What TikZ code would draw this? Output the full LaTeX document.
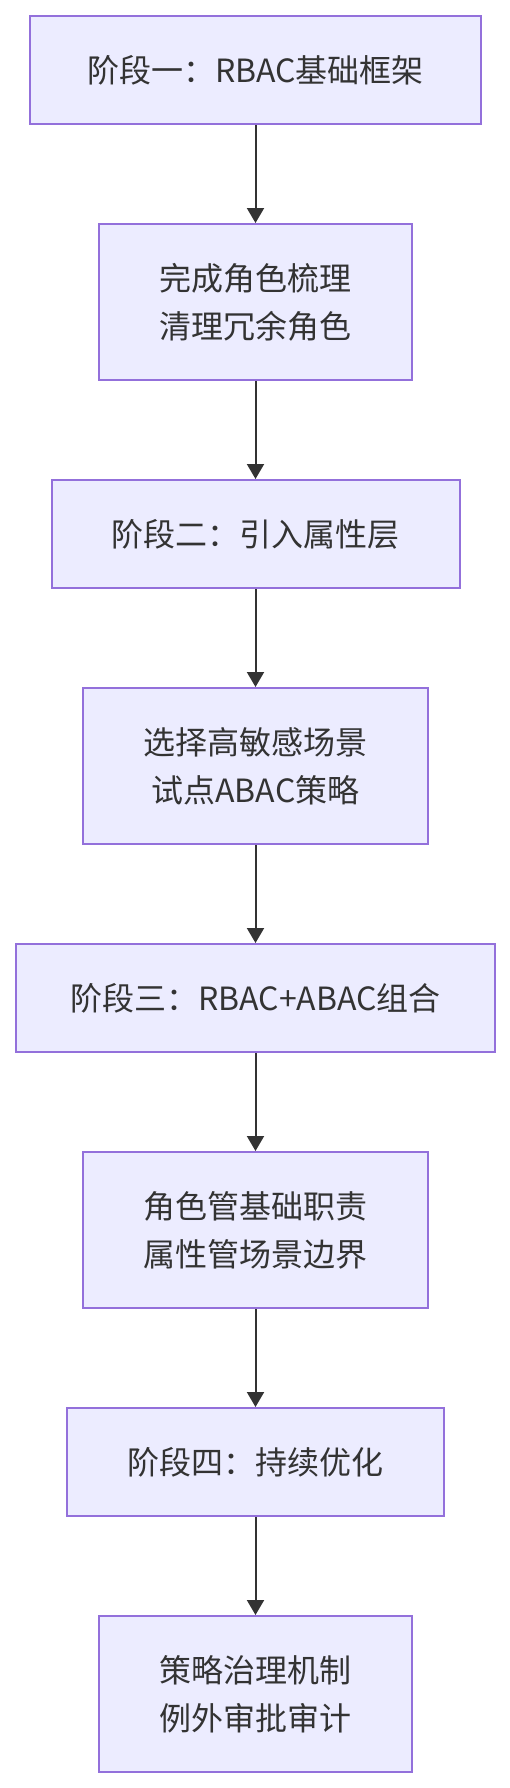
\documentclass[tikz,border=0pt]{standalone}
\usepackage{fontspec}
\setmainfont{Noto Sans CJK SC}
\usetikzlibrary{arrows.meta}
\definecolor{boxfill}{HTML}{ECECFF}
\definecolor{boxline}{HTML}{9370DB}
\definecolor{ink}{HTML}{333333}
\begin{document}
\begin{tikzpicture}[x=1pt,y=-1pt,
  stagebox/.style={draw=boxline,fill=boxfill,line width=2pt,inner sep=0pt,
    align=center,text=ink,font=\fontsize{32}{48}\selectfont},
  flow/.style={draw=ink,line width=2pt,-{Triangle[width=17pt,length=15pt]}}]
\useasboundingbox (0,0) rectangle (510,1788);
\node[stagebox,minimum width=451,minimum height=108] (s1) at (255.5,70) {阶段一：RBAC基础框架};
\node[stagebox,minimum width=313,minimum height=156] (s2) at (255.5,302) {完成角色梳理\\清理冗余角色};
\node[stagebox,minimum width=408,minimum height=108] (s3) at (255.5,534) {阶段二：引入属性层};
\node[stagebox,minimum width=345,minimum height=156] (s4) at (255.5,766) {选择高敏感场景\\试点ABAC策略};
\node[stagebox,minimum width=479,minimum height=108] (s5) at (255.5,998) {阶段三：RBAC+ABAC组合};
\node[stagebox,minimum width=345,minimum height=156] (s6) at (255.5,1230) {角色管基础职责\\属性管场景边界};
\node[stagebox,minimum width=377,minimum height=108] (s7) at (255.5,1462) {阶段四：持续优化};
\node[stagebox,minimum width=313,minimum height=156] (s8) at (255.5,1694) {策略治理机制\\例外审批审计};
\draw[flow] (s1.south) -- (s2.north);
\draw[flow] (s2.south) -- (s3.north);
\draw[flow] (s3.south) -- (s4.north);
\draw[flow] (s4.south) -- (s5.north);
\draw[flow] (s5.south) -- (s6.north);
\draw[flow] (s6.south) -- (s7.north);
\draw[flow] (s7.south) -- (s8.north);
\end{tikzpicture}
\end{document}
